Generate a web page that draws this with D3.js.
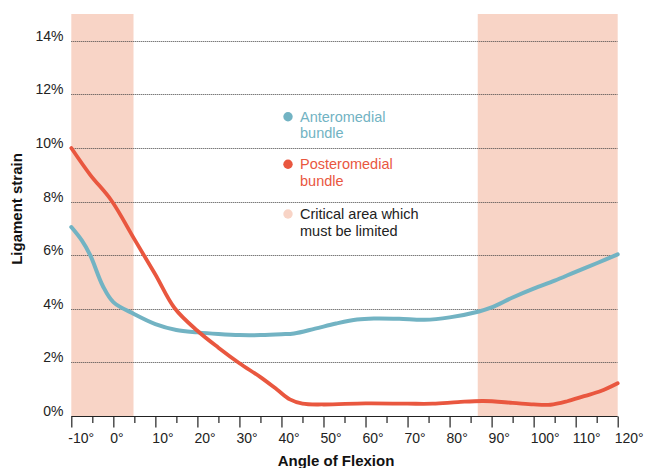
<!DOCTYPE html>
<html><head><meta charset="utf-8">
<script src="https://cdn.jsdelivr.net/npm/d3@7"></script>
<style>
html,body{margin:0;padding:0;background:#fff;}
svg{display:block;font-family:"Liberation Sans",Arial,sans-serif;}
</style></head>
<body><svg id="c" width="645" height="468"></svg>
<script>
// Data (angle of flexion in degrees, ligament strain in %)
const anteromedial = [[-10,7.05],[-7.5,6.55],[-5.5,6.0],[-2.5,4.85],[0,4.25],[5,3.8],[10,3.43],[15,3.21],[20,3.12],[25,3.06],[30,3.02],[35,3.02],[40,3.05],[43,3.08],[48,3.26],[53,3.45],[58,3.6],[62,3.64],[68,3.63],[74,3.59],[80,3.68],[87,3.9],[90,4.05],[95,4.42],[100,4.75],[105,5.05],[110,5.38],[115,5.7],[120,6.03]];
const posteromedial = [[-10,10.0],[-5.5,9.0],[-0.5,8.05],[5,6.6],[10,5.28],[14.6,4.02],[20,3.18],[25,2.55],[30,1.97],[35,1.45],[39,0.98],[42,0.62],[45,0.46],[50,0.43],[60,0.47],[70,0.46],[76,0.46],[82,0.52],[88,0.56],[95,0.49],[100,0.43],[104,0.42],[108,0.55],[112,0.74],[116,0.93],[120,1.22]];
const criticalAreas = [[-10,4.8],[86.7,120]];
const yTicks = [0,2,4,6,8,10,12,14];
const xTicks = [-10,0,10,20,30,40,50,60,70,80,90,100,110,120];
const legendItems = [
  {lines:["Anteromedial","bundle"], key:"am"},
  {lines:["Posteromedial","bundle"], key:"pm"},
  {lines:["Critical area which","must be limited"], key:"crit"}
];
const colors = {am:"#72b3c3", pm:"#e9573f", crit:"#f8d4c6"};
const textColors = {am:"#72b3c3", pm:"#e9573f", crit:"#222"};

const svg = d3.select("#c");
const x = d3.scaleLinear().domain([-10,120]).range([71.3,617.7]);
const y = d3.scaleLinear().domain([0,15]).range([416,14]);

// critical shading
svg.append("g").selectAll("rect").data(criticalAreas).join("rect")
  .attr("x",d=>x(d[0])).attr("width",d=>x(d[1])-x(d[0]))
  .attr("y",y(15)).attr("height",y(0)-y(15))
  .attr("fill",colors.crit);

// gridlines
svg.append("g").selectAll("line").data(yTicks.filter(d=>d>0)).join("line")
  .attr("x1",x(-10)).attr("x2",x(120))
  .attr("y1",d=>Math.round(y(d))+0.5).attr("y2",d=>Math.round(y(d))+0.5)
  .attr("stroke","#444").attr("stroke-width",1).attr("stroke-dasharray","1,1");

// y tick labels
svg.append("g").selectAll("text").data(yTicks).join("text")
  .attr("x",63.5).attr("y",d=>y(d)).attr("text-anchor","end")
  .attr("font-size","14px").attr("fill","#222")
  .text(d=>d+"%");

// x axis
const xAxis = d3.axisBottom(x).tickValues(d3.range(-10,121,5)).tickSize(6.5).tickFormat("");
const gx = svg.append("g").attr("transform","translate(0,416.5)").call(xAxis);
gx.select(".domain").attr("stroke","#222").attr("stroke-width",1.2).attr("d",`M${x(-10)},0H${x(120)}`);
gx.selectAll(".tick line").attr("stroke","#222").attr("stroke-width",1.2)
  .attr("y2",d=>d%10===0?11:6.5);
svg.append("g").selectAll("text").data(xTicks).join("text")
  .attr("x",d=>x(d)-3).attr("y",443).attr("text-anchor","start")
  .attr("font-size","14px").attr("fill","#222")
  .text(d=>d+"°");

// curves
const line = d3.line().x(d=>x(d[0])).y(d=>y(d[1])).curve(d3.curveCatmullRom.alpha(0.5));
svg.append("path").datum(anteromedial).attr("d",line)
  .attr("fill","none").attr("stroke",colors.am).attr("stroke-width",4).attr("stroke-linecap","round");
svg.append("path").datum(posteromedial).attr("d",line)
  .attr("fill","none").attr("stroke",colors.pm).attr("stroke-width",3.8).attr("stroke-linecap","round");

// legend
const legY = [116.7,164.3,214];
const lg = svg.append("g");
legendItems.forEach((it,i)=>{
  lg.append("circle").attr("cx",288).attr("cy",legY[i]).attr("r",4.7).attr("fill",colors[it.key]);
  it.lines.forEach((t,j)=>{
    lg.append("text").attr("x",300).attr("y",legY[i]+5+j*16.7)
      .attr("font-size","14.5px").attr("fill",textColors[it.key]).text(t);
  });
});

// axis titles
svg.append("text").attr("x",336).attr("y",466).attr("text-anchor","middle")
  .attr("font-size","15px").attr("font-weight","bold").attr("fill","#111").text("Angle of Flexion");
svg.append("text").attr("transform","translate(22,209) rotate(-90)").attr("text-anchor","middle")
  .attr("font-size","15px").attr("font-weight","bold").attr("fill","#111").text("Ligament strain");
</script></body></html>
